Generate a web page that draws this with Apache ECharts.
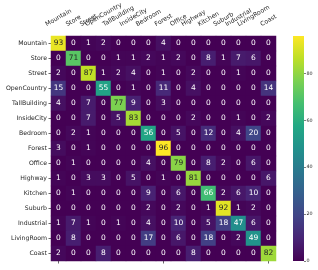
<!DOCTYPE html>
<html><head><meta charset="utf-8">
<script src="https://cdn.jsdelivr.net/npm/echarts/dist/echarts.min.js"></script>
<style>html,body{margin:0;padding:0;background:#fff}#c{width:318px;height:270px}</style>
</head><body><div id="c"></div><script>
const categories = ['Mountain','Store','Street','OpenCountry','TallBuilding','InsideCity','Bedroom','Forest','Office','Highway','Kitchen','Suburb','Industrial','LivingRoom','Coast'];
const matrix = [
  [93,0,1,2,0,0,0,4,0,0,0,0,0,0,0],
  [0,71,0,0,1,1,2,1,2,0,8,1,7,6,0],
  [2,0,87,1,2,4,0,1,0,2,0,0,1,0,0],
  [15,0,0,55,0,1,0,11,0,4,0,0,0,0,14],
  [4,0,7,0,77,9,0,3,0,0,0,0,0,0,0],
  [0,0,7,0,5,83,0,0,0,2,0,0,1,0,2],
  [0,2,1,0,0,0,56,0,5,0,12,0,4,20,0],
  [3,0,1,0,0,0,0,96,0,0,0,0,0,0,0],
  [0,1,0,0,0,0,4,0,79,0,8,2,0,6,0],
  [1,0,3,3,0,5,0,1,0,81,0,0,0,0,6],
  [0,1,0,0,0,0,9,0,6,0,66,2,6,10,0],
  [0,0,0,0,0,0,2,0,2,0,1,92,1,2,0],
  [1,7,1,0,1,0,4,0,10,0,5,18,47,6,0],
  [0,8,0,0,0,0,17,0,6,0,18,0,2,49,0],
  [2,0,0,8,0,0,0,0,0,8,0,0,0,0,82]
];
const colorbarTicks = [0,20,40,60,80];
const vmin = 0, vmax = 96;
const viridis = ['#440154','#482475','#414487','#355f8d','#2a788e','#21918c','#22a884','#44bf70','#7ad151','#bddf26','#fde725'];
const FONT = 'DejaVu Sans';
const TXT = '#262626';
const LABEL_SIZE = 6.2;

const chart = echarts.init(document.getElementById('c'), null, {renderer:'canvas'});
const heatData = [];
matrix.forEach((row, r) => row.forEach((v, c) => heatData.push({value:[c, r, v], label:{color: v >= 70 ? TXT : '#ffffff'}})));
const ctx = document.createElement('canvas').getContext('2d');
ctx.font = LABEL_SIZE + 'px "DejaVu Sans"';
const ang = Math.PI / 6;

const option = {
  animation: false,
  grid: [
    {left:51, top:36, width:225, height:225},
    {left:293, top:36, width:11, height:225}
  ],
  xAxis: [
    {type:'category', data:categories, gridIndex:0, position:'bottom',
     axisLine:{show:false}, splitLine:{show:false},
     axisTick:{show:true, length:2.5, alignWithLabel:true, lineStyle:{color:TXT, width:0.7}},
     axisLabel:{show:false}},
    {type:'category', data:['cb'], gridIndex:1, show:false}
  ],
  yAxis: [
    {type:'category', data:categories, inverse:true, gridIndex:0,
     axisLine:{show:false}, splitLine:{show:false},
     axisTick:{show:true, length:2.5, alignWithLabel:true, lineStyle:{color:TXT, width:0.7}},
     axisLabel:{fontSize:LABEL_SIZE, color:TXT, margin:4, fontFamily:FONT}},
    {type:'value', gridIndex:1, min:vmin, max:vmax, position:'right',
     axisLine:{show:false}, splitLine:{show:false},
     axisTick:{show:true, length:2, customValues:colorbarTicks, lineStyle:{color:TXT, width:0.6}},
     axisLabel:{customValues:colorbarTicks, fontSize:4.8, margin:2.5, color:TXT, fontFamily:FONT}}
  ],
  visualMap: {show:false, min:vmin, max:vmax, seriesIndex:0, dimension:2, inRange:{color:viridis}},
  series: [
    {type:'heatmap', xAxisIndex:0, yAxisIndex:0, data:heatData,
     label:{show:true, fontSize:7.5, fontFamily:FONT, formatter:p => p.value[2]},
     itemStyle:{borderWidth:0}},
    {type:'bar', xAxisIndex:1, yAxisIndex:1, data:[vmax], barWidth:'100%',
     itemStyle:{color:new echarts.graphic.LinearGradient(0,1,0,0, viridis.map((c,i)=>({offset:i/(viridis.length-1), color:c})))}},
    {type:'custom', xAxisIndex:0, yAxisIndex:0, clip:false, silent:true,
     data: categories.map((c,i)=>[i,0]),
     renderItem: (params, api) => {
       const i = api.value(0);
       const pt = api.coord([i, 0]);
       const sz = api.size([1, 1]);
       const topY = pt[1] - sz[1] / 2;
       const text = categories[i];
       const L = ctx.measureText(text).width;
       const h = 7;
       const bottomY = topY - 8;
       const cy = bottomY - (L * Math.sin(ang) + h * Math.cos(ang)) / 2;
       return {type:'text', x:pt[0], y:cy, rotation:ang,
               style:{text:text, fontSize:LABEL_SIZE, fontFamily:FONT, fill:TXT, align:'center', verticalAlign:'middle'}};
     }}
  ]
};
chart.setOption(option);
</script></body></html>
